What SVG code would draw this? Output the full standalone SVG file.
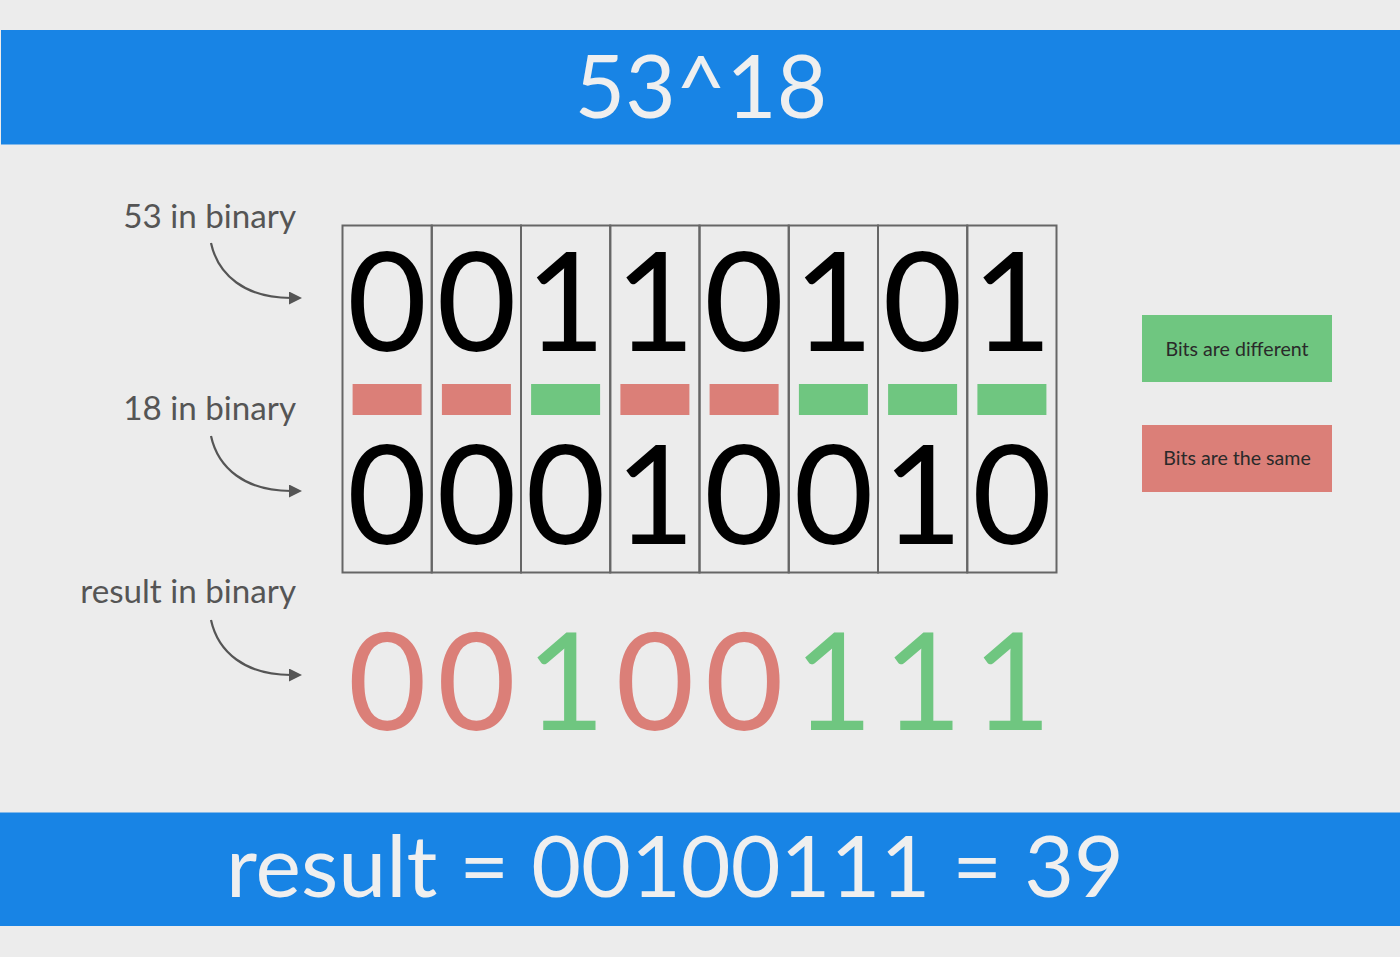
<svg xmlns="http://www.w3.org/2000/svg" width="1400" height="957" viewBox="0 0 1400 957">
<style>
.banner{fill:#1884e5}
.title{font-family:Lato,"Liberation Sans",sans-serif;fill:#efefef;text-anchor:middle}
.lbl{font-family:Lato,"Liberation Sans",sans-serif;font-size:33.2px;fill:#555;text-anchor:end}
.dig{font-family:Lato,"Liberation Sans",sans-serif;font-size:138px;text-anchor:middle;fill:#000}
.res{font-family:Lato,"Liberation Sans",sans-serif;font-size:136px;text-anchor:middle}
.cell{fill:none;stroke:#666;stroke-width:2}
.r{fill:#db7f78}
.g{fill:#6fc680}
.legt{font-family:Lato,"Liberation Sans",sans-serif;font-size:19.6px;fill:#2a2a2a;text-anchor:middle}
.arr{fill:none;stroke:#555;stroke-width:2.2}
</style>
<defs>
<marker id="ah" viewBox="0 0 13 13" refX="2" refY="6.5" markerWidth="13" markerHeight="13" markerUnits="userSpaceOnUse" orient="auto">
<path d="M0,0 L13,6.5 L0,13 Z" fill="#555"/>
</marker>
</defs>
<rect width="1400" height="957" fill="#ececec"/>
<g id="header">
<rect class="banner" x="1" y="30" width="1399" height="114.5"/>
<text class="title" x="701" y="118" font-size="87">53^18</text>
</g>
<g id="footer">
<rect class="banner" x="0" y="812.5" width="1400" height="113.5"/>
<text class="title" x="675" y="897" font-size="86">result = 00100111 = 39</text>
</g>
<g id="labels">
<text class="lbl" x="296" y="228">53 in binary</text>
<text class="lbl" x="296" y="420">18 in binary</text>
<text class="lbl" x="296" y="603">result in binary</text>
</g>
<g id="connectors">
<path class="arr" marker-end="url(#ah)" d="M211,243 C218,275 245,298 291,298"/>
<path class="arr" marker-end="url(#ah)" d="M211,436 C218,468 245,491 291,491"/>
<path class="arr" marker-end="url(#ah)" d="M211,620 C218,652 245,675 291,675"/>
</g>
<g id="grid">
<rect class="cell" x="342.5" y="225.5" width="89.25" height="347"/>
<rect class="cell" x="431.75" y="225.5" width="89.25" height="347"/>
<rect class="cell" x="521" y="225.5" width="89.25" height="347"/>
<rect class="cell" x="610.25" y="225.5" width="89.25" height="347"/>
<rect class="cell" x="699.5" y="225.5" width="89.25" height="347"/>
<rect class="cell" x="788.75" y="225.5" width="89.25" height="347"/>
<rect class="cell" x="878" y="225.5" width="89.25" height="347"/>
<rect class="cell" x="967.25" y="225.5" width="89.25" height="347"/>
</g>
<g id="row53">
<text class="dig" x="387.1" y="351">0</text>
<text class="dig" x="476.4" y="351">0</text>
<text class="dig" x="565.6" y="351">1</text>
<text class="dig" x="654.9" y="351">1</text>
<text class="dig" x="744.1" y="351">0</text>
<text class="dig" x="833.4" y="351">1</text>
<text class="dig" x="922.6" y="351">0</text>
<text class="dig" x="1011.9" y="351">1</text>
</g>
<g id="bars">
<rect class="r" x="352.6" y="384" width="69" height="31"/>
<rect class="r" x="441.9" y="384" width="69" height="31"/>
<rect class="g" x="531.1" y="384" width="69" height="31"/>
<rect class="r" x="620.4" y="384" width="69" height="31"/>
<rect class="r" x="709.6" y="384" width="69" height="31"/>
<rect class="g" x="798.9" y="384" width="69" height="31"/>
<rect class="g" x="888.1" y="384" width="69" height="31"/>
<rect class="g" x="977.4" y="384" width="69" height="31"/>
</g>
<g id="row18">
<text class="dig" x="387.1" y="544">0</text>
<text class="dig" x="476.4" y="544">0</text>
<text class="dig" x="565.6" y="544">0</text>
<text class="dig" x="654.9" y="544">1</text>
<text class="dig" x="744.1" y="544">0</text>
<text class="dig" x="833.4" y="544">0</text>
<text class="dig" x="922.6" y="544">1</text>
<text class="dig" x="1011.9" y="544">0</text>
</g>
<g id="result">
<text class="res r" x="387.1" y="730">0</text>
<text class="res r" x="476.4" y="730">0</text>
<text class="res g" x="565.6" y="730">1</text>
<text class="res r" x="654.9" y="730">0</text>
<text class="res r" x="744.1" y="730">0</text>
<text class="res g" x="833.4" y="730">1</text>
<text class="res g" x="922.6" y="730">1</text>
<text class="res g" x="1011.9" y="730">1</text>
</g>
<g id="legend-different">
<rect class="g" x="1142" y="315" width="190" height="67"/>
<text class="legt" x="1237" y="356">Bits are different</text>
</g>
<g id="legend-same">
<rect class="r" x="1142" y="425" width="190" height="67"/>
<text class="legt" x="1237" y="465">Bits are the same</text>
</g>
</svg>
